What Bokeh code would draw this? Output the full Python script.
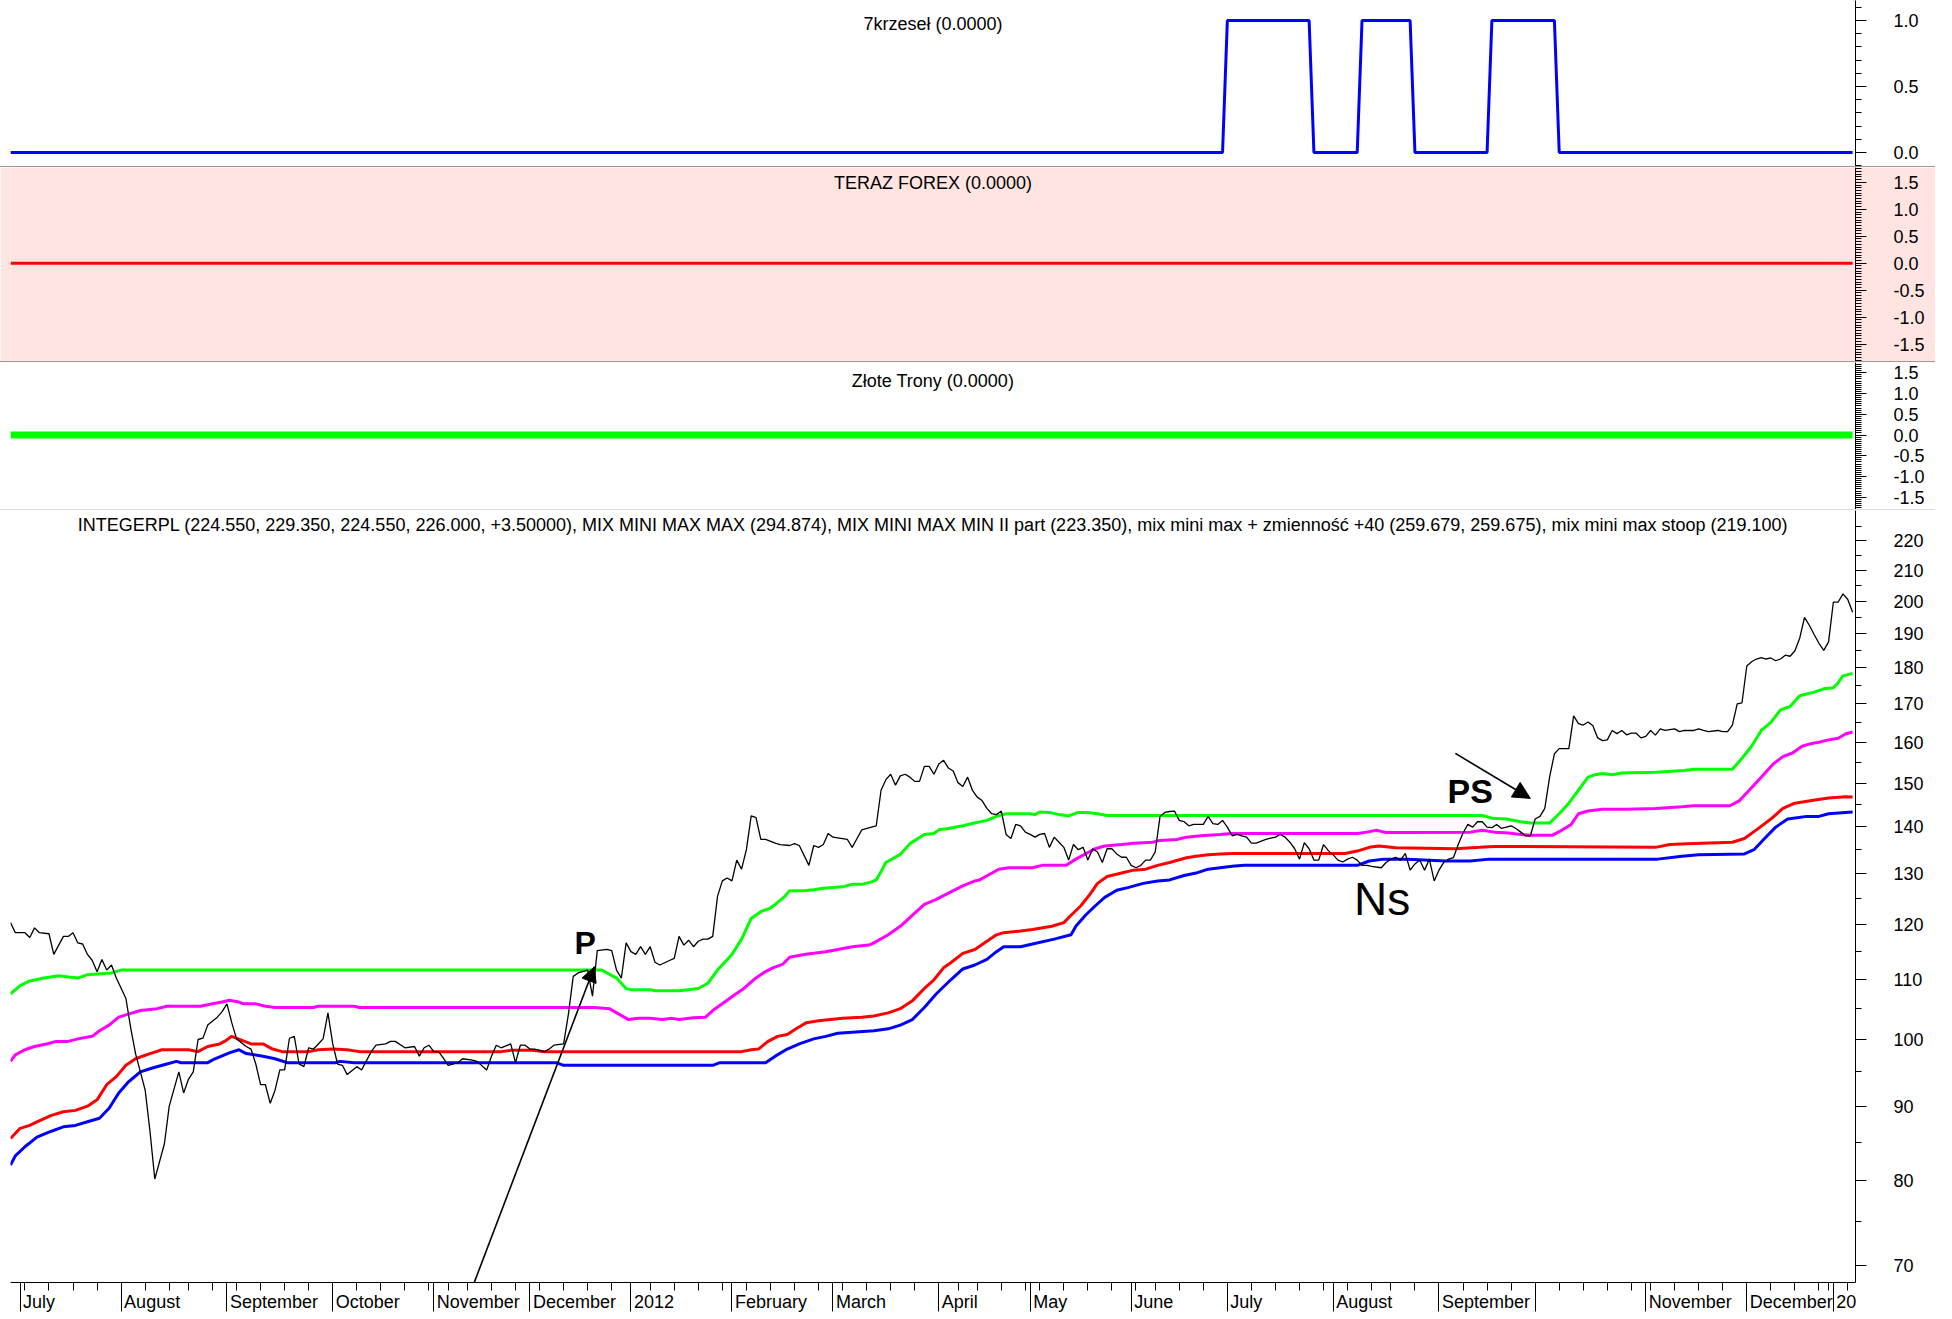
import numpy as np
import pandas as pd
from bokeh.plotting import figure
from bokeh.layouts import column
from bokeh.models import (Range1d, FixedTicker, PrintfTickFormatter, Label, LinearAxis,
                          Arrow, NormalHead, Div)
from bokeh.embed import file_html
from bokeh.resources import INLINE

FONT = "Liberation Sans"

# ---------------- trading calendar (x axis = trading-day index) ----------------
first_day = "2011-06-29"
last_day = "2013-01-08"
holidays = ["2011-08-15", "2011-11-01", "2011-11-11", "2011-12-26", "2012-01-06",
            "2012-04-06", "2012-04-09", "2012-05-01", "2012-05-03", "2012-06-07",
            "2012-08-15", "2012-11-01", "2012-12-24", "2012-12-25", "2012-12-26",
            "2013-01-01"]
month_names = ["July", "August", "September", "October", "November", "December", "2012",
               "February", "March", "April", "May", "June", "July", "August", "September",
               "", "November", "December", "20"]

# ---------------- top panels ----------------
sig_day = [0, 252, 253, 270, 271, 280, 281, 291, 292, 307, 308, 321, 322, 383]
sig_val = [0, 0, 1, 1, 0, 0, 1, 1, 0, 0, 1, 1, 0, 0]
teraz_day = [0, 383]
teraz_val = [0, 0]
zlote_day = [0, 383]
zlote_val = [0, 0]

# ---------------- main panel: INTEGERPL close ----------------
price_day = [0, 1, 3, 4, 5, 6, 8, 9, 11, 12, 13, 14, 15, 16, 17, 18, 19, 20, 21, 22,
             24, 25, 26, 28, 29, 30, 32, 33, 35, 36, 37, 38, 39, 40, 41, 43, 44, 45, 46, 47,
             49, 50, 51, 52, 53, 54, 55, 56, 57, 58, 59, 60, 61, 62, 63, 64, 65, 66, 67, 68,
             69, 70, 72, 73, 75, 76, 78, 79, 80, 82, 84, 85, 86, 87, 88, 89, 90, 91, 93, 94,
             96, 97, 99, 100, 101, 102, 104, 105, 106, 107, 108, 109, 111, 112, 113, 115, 116, 117, 118, 120,
             121, 122, 124, 125, 126, 127, 128, 129, 130, 131, 132, 133, 134, 135, 137, 138, 139, 140, 141, 142,
             143, 144, 145, 146, 147, 148, 149, 150, 151, 152, 153, 154, 155, 156, 157, 159, 160, 162, 163, 164,
             166, 167, 168, 169, 170, 171, 173, 174, 175, 176, 177, 179, 180, 181, 182, 183, 184, 185, 186, 187,
             188, 189, 190, 191, 192, 193, 194, 195, 196, 197, 198, 199, 200, 201, 202, 203, 204, 205, 206, 207,
             208, 209, 210, 211, 212, 213, 214, 215, 216, 217, 218, 219, 220, 221, 222, 223, 224, 225, 226, 227,
             228, 229, 230, 231, 232, 233, 234, 235, 236, 237, 238, 239, 240, 241, 242, 243, 244, 245, 246, 248,
             249, 250, 251, 252, 253, 254, 255, 256, 257, 258, 259, 261, 262, 263, 264, 265, 266, 267, 268, 269,
             270, 271, 272, 273, 274, 275, 276, 277, 278, 279, 280, 281, 282, 283, 285, 286, 287, 288, 289, 290,
             291, 292, 293, 294, 295, 296, 297, 298, 299, 300, 301, 302, 303, 304, 305, 306, 307, 308, 309, 310,
             311, 312, 313, 314, 315, 316, 317, 318, 319, 320, 321, 322, 323, 324, 325, 326, 327, 328, 329, 330,
             331, 332, 333, 334, 335, 336, 337, 338, 339, 340, 341, 342, 343, 344, 346, 347, 348, 350, 351, 352,
             353, 355, 356, 357, 358, 359, 360, 361, 362, 363, 364, 365, 366, 367, 368, 369, 370, 371, 372, 373,
             374, 375, 376, 377, 378, 379, 380, 381, 382, 383]
price = [120.3, 118.4, 118.4, 117.5, 119.3, 118.4, 118.2, 114.4, 117.7, 117.7, 118.4, 116.5, 116.3, 114.4, 113.3, 111.3, 113.5, 111.6, 112.5, 110.2,
         106.7, 101.8, 97.8, 92.3, 86.5, 80.2, 84.8, 90.0, 95.0, 91.9, 93.9, 95.0, 100.0, 100.2, 102.3, 103.6, 104.5, 105.8, 102.7, 100.1,
         98.9, 98.5, 96.2, 93.1, 93.1, 90.4, 92.3, 95.3, 95.3, 100.2, 100.5, 96.2, 95.8, 98.7, 98.5, 99.3, 100.1, 104.3, 99.3, 96.2,
         96.0, 94.6, 95.8, 95.3, 98.1, 99.1, 99.3, 99.7, 99.7, 98.7, 98.9, 97.4, 98.7, 99.1, 98.1, 98.1, 97.1, 96.0, 96.4, 97.0,
         96.8, 96.6, 95.3, 97.4, 99.1, 98.7, 99.3, 96.4, 99.1, 99.1, 98.5, 98.5, 98.1, 98.5, 99.1, 99.3, 104.1, 110.5, 111.1, 111.6,
         107.1, 115.1, 115.3, 115.1, 111.6, 110.2, 116.5, 114.9, 114.4, 115.8, 114.4, 115.8, 113.0, 112.5, 113.3, 113.7, 117.7, 116.1, 117.0, 115.8,
         116.8, 117.2, 117.2, 117.7, 125.4, 128.5, 129.1, 128.5, 132.8, 130.9, 135.0, 142.4, 142.0, 137.2, 137.2, 136.4, 136.1, 135.9, 136.3, 135.9,
         131.7, 135.9, 135.5, 136.1, 138.5, 137.7, 137.4, 137.2, 135.5, 137.4, 139.3, 139.9, 140.2, 148.3, 150.8, 152.1, 149.5, 151.7, 152.1, 151.4,
         150.4, 150.4, 154.0, 154.0, 152.1, 154.6, 155.5, 153.6, 152.9, 150.1, 149.2, 151.4, 148.3, 146.7, 145.9, 144.1, 142.9, 142.7, 143.5, 138.3,
         137.4, 140.5, 140.2, 138.8, 138.3, 137.7, 138.3, 138.5, 135.5, 137.7, 136.6, 135.5, 132.8, 136.1, 135.0, 135.5, 132.8, 135.2, 134.5, 132.3,
         135.2, 135.2, 134.1, 133.4, 133.4, 131.7, 131.2, 131.7, 132.8, 132.8, 134.5, 142.3, 143.2, 143.4, 143.5, 141.4, 141.1, 140.2, 140.5, 140.5,
         142.3, 140.7, 140.5, 141.4, 139.9, 138.0, 138.3, 138.0, 137.7, 136.4, 136.4, 137.2, 137.5, 137.7, 138.3, 137.7, 136.6, 135.2, 133.0, 136.5,
         135.2, 132.8, 132.8, 136.1, 134.8, 133.9, 132.8, 132.4, 133.0, 133.4, 132.8, 131.7, 131.7, 131.5, 131.2, 132.3, 133.0, 133.4, 132.8, 134.2,
         130.7, 132.0, 132.8, 130.7, 133.0, 128.5, 130.7, 132.3, 133.0, 133.3, 136.1, 138.6, 140.5, 139.9, 141.1, 141.1, 139.9, 139.8, 140.5, 139.6,
         139.9, 140.2, 139.6, 138.8, 138.0, 138.0, 141.7, 142.3, 144.1, 151.4, 157.1, 158.4, 158.4, 158.4, 166.8, 164.8, 164.4, 165.2, 164.2, 161.1,
         160.4, 160.6, 163.0, 162.2, 163.0, 161.9, 162.3, 162.3, 161.1, 161.5, 163.0, 161.8, 163.4, 163.0, 163.4, 162.7, 163.0, 163.0, 163.4, 163.0,
         162.7, 163.0, 162.7, 162.7, 164.4, 170.0, 170.3, 180.5, 181.7, 182.5, 182.9, 182.5, 182.8, 182.0, 182.5, 183.6, 183.3, 184.9, 188.6, 194.9,
         192.5, 189.7, 187.1, 185.0, 187.5, 199.7, 199.7, 202.3, 200.5, 196.5]

# MIX MINI MAX MAX (green)
g_day = [0, 2, 4, 7, 10, 12, 14, 16, 21, 23, 123, 124, 126, 128, 129, 133, 134, 139, 141, 143,
         145, 147, 150, 152, 154, 156, 158, 159, 161, 162, 165, 167, 169, 173, 175, 177, 179, 180, 181, 182,
         185, 187, 190, 192, 193, 195, 198, 200, 203, 205, 207, 212, 213, 214, 216, 218, 220, 222, 224, 226,
         228, 306, 308, 311, 314, 316, 320, 322, 324, 326, 328, 329.5, 331, 333, 335, 342, 348, 350, 358, 360,
         362, 364, 366, 368, 370, 372, 375, 377, 379, 380, 381, 383]
g_val = [107.5, 108.9, 109.7, 110.2, 110.6, 110.4, 110.2, 110.8, 111.1, 111.6, 111.6, 111.1, 110.2, 108.4, 108.2, 108.2, 108.0, 108.0, 108.2, 108.4,
         109.3, 111.6, 114.4, 117.2, 121.1, 122.4, 123.1, 123.8, 125.4, 126.5, 126.5, 126.7, 127.0, 127.3, 127.8, 127.8, 128.3, 128.7, 130.4, 132.3,
         134.0, 136.3, 138.3, 138.5, 139.3, 139.6, 140.2, 140.7, 141.4, 142.3, 142.9, 142.9, 142.7, 143.3, 143.2, 142.7, 142.4, 143.2, 143.2, 142.9,
         142.5, 142.5, 141.9, 141.7, 141.1, 140.8, 140.8, 142.9, 145.3, 148.3, 151.4, 152.0, 152.3, 152.0, 152.4, 152.6, 153.0, 153.3, 153.3, 156.0,
         159.0, 163.0, 165.1, 168.4, 169.3, 172.2, 173.2, 174.1, 174.4, 175.8, 177.7, 178.4]

# MIX MINI MAX MIN II part (magenta)
m_day = [0, 1, 3, 5, 7.5, 9.5, 12, 14, 17, 18.5, 20.5, 22.5, 24.5, 27, 30.5, 32.5, 39.5, 42, 44, 45.5,
         47.5, 48.5, 51, 53, 55, 63, 64, 71.5, 72.5, 121.5, 124.5, 126.5, 128.5, 130.5, 133, 135.5, 137.5, 139, 142, 144.5,
         146.5, 148.5, 150.5, 152.5, 154.5, 156.5, 158.5, 160.5, 162, 165, 167, 169.5, 172, 175, 178.5, 179.5, 182.5, 185, 187.5, 190,
         192.5, 195.5, 198, 200.5, 201.5, 203.5, 205.5, 207.5, 212.5, 214.5, 219.5, 221.5, 223.5, 225.5, 227.5, 231, 233.5, 237.5, 239, 242.5,
         244.5, 247.5, 251.5, 254, 280, 282, 284, 286, 290.5, 303.5, 306, 308.5, 311.5, 314, 316, 320.5, 322.5, 324.5, 326, 328,
         331, 336, 342, 347.5, 350, 357.5, 359.5, 361.5, 364, 366.5, 368.5, 370.5, 372.5, 374.5, 376, 378, 380, 381.5, 383]
m_val = [96.6, 97.6, 98.4, 98.9, 99.3, 99.7, 99.7, 100.1, 100.5, 101.4, 102.3, 103.6, 104.1, 104.7, 105.0, 105.4, 105.4, 105.8, 106.1, 106.4,
         106.1, 105.8, 105.8, 105.4, 105.2, 105.2, 105.4, 105.4, 105.2, 105.2, 105.0, 104.1, 103.2, 103.4, 103.4, 103.2, 103.4, 103.2, 103.5, 103.6,
         105.0, 106.1, 107.3, 108.4, 109.9, 111.1, 112.0, 112.6, 113.9, 114.4, 114.6, 114.9, 115.3, 115.8, 116.1, 116.5, 118.0, 119.6, 121.7, 123.8,
         124.8, 126.3, 127.5, 128.5, 128.7, 129.8, 130.9, 131.2, 131.2, 131.7, 131.7, 133.0, 134.1, 135.2, 135.8, 136.1, 136.4, 136.6, 137.0, 137.2,
         137.7, 138.0, 138.3, 138.5, 138.5, 138.8, 139.2, 138.7, 138.7, 138.8, 139.2, 138.8, 138.6, 138.3, 138.1, 138.1, 139.2, 140.5, 142.9, 143.5,
         143.9, 143.9, 144.1, 144.5, 144.7, 144.7, 145.9, 148.3, 151.4, 154.6, 156.4, 157.3, 159.0, 159.7, 160.0, 160.6, 161.0, 162.1, 162.6]

# mix mini max + zmiennosc +40 (red)
r_day = [0, 2, 4, 5.5, 8.5, 11, 13.5, 16, 18, 20, 22, 24, 26, 29, 31.5, 37, 39, 41, 43.5, 44.5,
         46, 48, 50, 52.5, 54.5, 56.5, 62, 64, 67, 70, 72.5, 102, 104, 108.5, 111, 152, 154, 155.5, 157.5, 159.5,
         161.5, 163.5, 165.5, 168, 170.5, 173, 177, 179.5, 182.5, 185, 187.5, 190, 192, 194, 195.5, 198, 200.5, 203, 205, 206.5,
         210, 212.5, 216.5, 219, 220.5, 222.5, 224.5, 226, 228, 231, 233.5, 236, 238.5, 241, 244.5, 246.5, 249, 251.5, 254, 277.5,
         280, 282.5, 284.5, 288, 300.5, 305.5, 308.5, 342, 345, 348.5, 358, 360.5, 363, 366, 368.5, 371, 374.5, 378, 381.5, 383]
r_val = [85.5, 86.9, 87.3, 87.8, 88.7, 89.2, 89.4, 90.0, 90.9, 93.1, 94.3, 96.0, 97.0, 97.8, 98.4, 98.4, 98.1, 98.9, 99.3, 99.7,
         100.5, 99.9, 99.3, 99.3, 98.5, 98.1, 98.1, 98.4, 98.5, 98.4, 98.1, 98.1, 98.3, 98.3, 98.1, 98.1, 98.4, 98.5, 99.7, 100.5,
         100.8, 101.8, 102.7, 103.0, 103.2, 103.4, 103.6, 103.8, 104.3, 105.0, 106.3, 108.4, 109.9, 112.0, 112.9, 114.6, 115.3, 116.8, 118.0, 118.4,
         118.7, 119.0, 119.6, 120.3, 121.7, 123.5, 125.9, 128.0, 129.4, 130.1, 130.7, 130.9, 131.7, 132.3, 133.3, 133.6, 133.9, 134.1, 134.2, 134.2,
         134.7, 135.5, 135.8, 135.4, 135.2, 135.5, 135.7, 135.5, 136.1, 136.3, 136.6, 137.4, 139.3, 141.7, 144.1, 145.3, 145.9, 146.5, 146.8, 146.7]

# mix mini max stoop (blue)
b_day = [0, 1, 3, 5.5, 8.5, 11, 13.5, 16, 18.5, 20.5, 22.5, 24.5, 27, 29.5, 32.5, 34.5, 35.5, 41, 42.5, 45.5,
         47.5, 49, 52.5, 55, 57.5, 67.5, 68.5, 71.5, 113.5, 115, 146, 147.5, 157, 159, 161.5, 164, 167, 169.5, 172, 179.5,
         182.5, 185, 187.5, 190, 192.5, 195.5, 198, 200.5, 203, 205, 206.5, 210, 212.5, 217, 220.5, 221.5, 223.5, 225.5, 227.5, 230,
         232.5, 235.5, 238.5, 241, 244, 246.5, 249, 251.5, 254, 256.5, 280, 282.5, 285.5, 290.5, 298.5, 303.5, 307.5, 342.5, 347.5, 351,
         360.5, 362.5, 364.5, 367, 369.5, 373.5, 376, 378, 381.5, 383]
b_val = [82.0, 83.2, 84.4, 85.7, 86.5, 87.1, 87.3, 87.8, 88.3, 89.7, 91.9, 93.5, 95.0, 95.6, 96.2, 96.6, 96.4, 96.4, 97.0, 97.9,
         98.4, 97.8, 97.4, 97.0, 96.4, 96.4, 96.6, 96.4, 96.4, 96.0, 96.0, 96.4, 96.4, 97.4, 98.5, 99.3, 100.1, 100.5, 101.0, 101.4,
         101.7, 102.3, 103.2, 105.2, 107.5, 109.9, 111.8, 112.5, 113.5, 114.9, 115.8, 115.8, 116.3, 117.2, 118.0, 119.6, 121.7, 123.5, 125.2, 126.6,
         127.2, 128.0, 128.5, 128.7, 129.6, 130.1, 130.9, 131.2, 131.5, 131.7, 131.7, 132.6, 133.0, 133.0, 132.6, 132.6, 133.0, 133.0, 133.6, 133.9,
         134.1, 135.0, 137.2, 139.9, 141.7, 142.3, 142.3, 142.9, 143.2, 143.3]

# annotations (data coordinates: trading-day index, price)
p_arrow = dict(x_start=93.7, y_start=64.5, x_end=121.4, y_end=112.2)
ps_arrow = dict(x_start=300.4, y_start=157.2, x_end=316.0, y_end=146.4)
notes = [("P", 119.5, 116.4, "bold", "32px"),
         ("PS", 303.5, 148.1, "bold", "34px"),
         ("Ns", 285.2, 124.9, "normal", "46px")]

main_title = ("INTEGERPL (224.550, 229.350, 224.550, 226.000, +3.50000), MIX MINI MAX MAX (294.874), "
              "MIX MINI MAX MIN II part (223.350), mix mini max + zmienność +40 (259.679, 259.675), "
              "mix mini max stoop (219.100)")

# ---------------- calendar-derived ticks ----------------
days = pd.bdate_range(first_day, last_day)
days = days[~days.isin(pd.to_datetime(holidays))]
n = len(days)
month_idx = [i for i in range(1, n) if days[i].month != days[i - 1].month]
week_idx = [i for i in range(1, n)
            if days[i].isocalendar()[1] != days[i - 1].isocalendar()[1]]

# ---------------- layout ----------------
FW = 1845
LB = 10
RB = 80
x_range = Range1d(0, 383.6)
xmid = (x_range.start + x_range.end) / 2
PX_PER_DAY = FW / (x_range.end - x_range.start)
LABEL_PX = 18
# Arial / Liberation Sans advance widths (1/1000 em) used to left-align month names
ADV = {"A": 667, "D": 722, "F": 611, "J": 500, "M": 833, "N": 722, "O": 778, "S": 667,
       "a": 556, "b": 556, "c": 500, "e": 556, "g": 556, "h": 556, "i": 222, "l": 222,
       "m": 833, "n": 556, "o": 556, "p": 556, "r": 333, "s": 500, "t": 278, "u": 556,
       "v": 500, "y": 500}


def text_px(s):
    return sum(ADV.get(ch, 556) for ch in s) / 1000.0 * LABEL_PX


def make_fig(fh, y0, y1, bg="white", y_type="linear", x_axis=None, bottom=0):
    p = figure(frame_width=FW, frame_height=fh, x_range=x_range, y_range=Range1d(y0, y1),
               y_axis_type=y_type, x_axis_location=x_axis, y_axis_location="right",
               output_backend="svg", toolbar_location=None,
               min_border_left=LB, min_border_right=RB, min_border_top=0, min_border_bottom=bottom,
               background_fill_color=bg, border_fill_color=bg, outline_line_color=None)
    p.grid.visible = False
    ax = p.yaxis[0]
    ax.axis_line_color = "black"
    ax.major_tick_out = 11
    ax.major_tick_in = 0
    ax.minor_tick_out = 6
    ax.minor_tick_in = 0
    ax.major_label_standoff = 27
    ax.major_label_text_font = FONT
    ax.major_label_text_font_size = "18px"
    ax.major_label_text_color = "black"
    return p


def add_title(p, text, fh, from_top):
    p.add_layout(Label(x=xmid, y=fh - from_top, y_units="screen", text=text,
                       text_align="center", text_baseline="middle",
                       text_font=FONT, text_font_size="18px", text_color="black"))


# panel 1: 7krzesel
H1 = 166
p1 = make_fig(H1, -0.106, 1.152)
p1.yaxis[0].ticker = FixedTicker(ticks=[0.0, 0.5, 1.0],
                                 minor_ticks=list(np.round(np.arange(-0.1, 1.15, 0.1), 2)))
p1.yaxis[0].formatter = PrintfTickFormatter(format="%.1f")
p1.line(sig_day, sig_val, line_color="#0000FF", line_width=3)
add_title(p1, "7krzeseł (0.0000)", H1, 23)

# panel 2: TERAZ FOREX
H2 = 194
p2 = make_fig(H2, -1.824, 1.776, bg="#FFE4E1")
p2.yaxis[0].ticker = FixedTicker(ticks=[-1.5, -1.0, -0.5, 0.0, 0.5, 1.0, 1.5],
                                 minor_ticks=list(np.round(np.arange(-1.8, 1.76, 0.05), 2)))
p2.yaxis[0].formatter = PrintfTickFormatter(format="%.1f")
p2.line(teraz_day, teraz_val, line_color="#FF0000", line_width=3)
add_title(p2, "TERAZ FOREX (0.0000)", H2, 15.5)

# panel 3: Zlote Trony
H3 = 147
p3 = make_fig(H3, -1.795, 1.747)
p3.yaxis[0].ticker = FixedTicker(ticks=[-1.5, -1.0, -0.5, 0.0, 0.5, 1.0, 1.5],
                                 minor_ticks=list(np.round(np.arange(-1.75, 1.74, 0.05), 2)))
p3.yaxis[0].formatter = PrintfTickFormatter(format="%.1f")
p3.line(zlote_day, zlote_val, line_color="#00FF00", line_width=7)
add_title(p3, "Złote Trony (0.0000)", H3, 18)

# main panel
H4 = 772
p4 = make_fig(H4, 68.1, 230.8, y_type="log", x_axis="below", bottom=36)
p4.yaxis[0].ticker = FixedTicker(ticks=list(range(70, 221, 10)),
                                 minor_ticks=list(range(75, 226, 10)))
p4.yaxis[0].formatter = PrintfTickFormatter(format="%d")

# x axis 1: month tick lines + weekly ticks (no labels)
xa = p4.xaxis[0]
xa.ticker = FixedTicker(ticks=month_idx, minor_ticks=week_idx)
xa.major_label_overrides = {i: "" for i in month_idx}
xa.major_label_text_font_size = "1px"
xa.axis_line_color = "black"
xa.major_tick_in = 0
xa.major_tick_out = 29
xa.minor_tick_in = 0
xa.minor_tick_out = 8
xa.major_label_standoff = 0

# x axis 2: month names, left-aligned just right of each month line
label_pos, label_txt = [], []
for i, name in zip(month_idx, month_names):
    if name:
        label_pos.append(round(i + (3 + text_px(name) / 2) / PX_PER_DAY, 3))
        label_txt.append(name)
xb = LinearAxis(ticker=FixedTicker(ticks=label_pos, minor_ticks=[]),
                major_label_overrides=dict(zip(label_pos, label_txt)),
                axis_line_color=None, major_tick_line_color=None, minor_tick_line_color=None,
                major_tick_in=0, major_tick_out=0, minor_tick_in=0, minor_tick_out=0,
                major_label_standoff=-20, major_label_text_font=FONT,
                major_label_text_font_size="18px", major_label_text_color="black")
p4.add_layout(xb, "below")

p4.line(g_day, g_val, line_color="#00FF00", line_width=3)
p4.line(m_day, m_val, line_color="#FF00FF", line_width=3)
p4.line(r_day, r_val, line_color="#FF0000", line_width=3)
p4.line(b_day, b_val, line_color="#0000FF", line_width=3)
p4.line(price_day, price, line_color="black", line_width=1.3)

add_title(p4, main_title, H4, 14)

for arr, size in ((p_arrow, 15), (ps_arrow, 17)):
    p4.add_layout(Arrow(**arr, line_color="black", line_width=1.6,
                        end=NormalHead(size=size, fill_color="black", line_color="black")))
for txt, x, y, style, fs in notes:
    p4.add_layout(Label(x=x, y=y, text=txt, text_align="center", text_baseline="middle",
                        text_font=FONT, text_font_style=style, text_font_size=fs,
                        text_color="black"))

TOTAL_W = LB + FW + RB


def sep(color):
    return Div(width=TOTAL_W, height=1, margin=0, styles={"background-color": color})


layout = column(p1, sep("#A39595"), p2, sep("#A39595"), p3, sep("#DCDCDC"), p4, spacing=0)

open("out.html", "w").write(file_html(layout, INLINE))
